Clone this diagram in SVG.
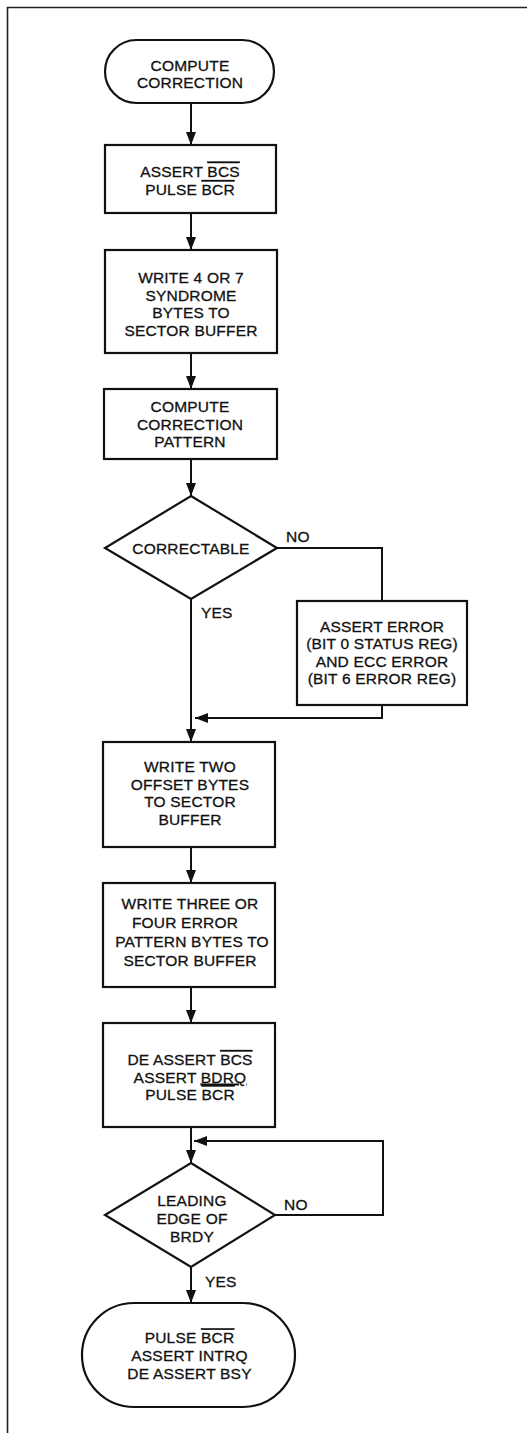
<svg xmlns="http://www.w3.org/2000/svg" width="527" height="1433" viewBox="0 0 527 1433">
  <style>
    .shape { fill: #fff; stroke: #111; stroke-width: 2.2; }
    .wire { fill: none; stroke: #111; stroke-width: 2; }
    .frame { fill: none; stroke: #222; stroke-width: 1.6; }
    text { font-family: "Liberation Sans", Arial, Helvetica, sans-serif; font-size: 15.5px; letter-spacing: 0.2px; fill: #111; stroke: #111; stroke-width: 0.3px; text-anchor: middle; }
    .lbl { text-anchor: start; }
    .ov { text-decoration: overline; }
    .un { text-decoration: underline; }
  </style>
  <defs>
    <marker id="arrow" markerUnits="userSpaceOnUse" markerWidth="14" markerHeight="11" refX="13" refY="5" orient="auto">
      <path d="M0,0 L13,5 L0,10 z" fill="#111"/>
    </marker>
  </defs>
  <rect width="527" height="1433" fill="#fff"/>

  <!-- page frame (top and left edges) -->
  <path class="frame" d="M7.5,1433 V7.5 H527"/>

  <!-- connectors -->
  <g id="connectors">
    <line class="wire" x1="191" y1="103" x2="191" y2="145" marker-end="url(#arrow)"/>
    <line class="wire" x1="191" y1="213" x2="191" y2="250" marker-end="url(#arrow)"/>
    <line class="wire" x1="191" y1="353" x2="191" y2="389" marker-end="url(#arrow)"/>
    <line class="wire" x1="191" y1="459" x2="191" y2="496" marker-end="url(#arrow)"/>
    <polyline class="wire" points="277,548 382,548 382,601"/>
    <line class="wire" x1="191" y1="599" x2="191" y2="742" marker-end="url(#arrow)"/>
    <polyline class="wire" points="382,705 382,718 195,718" marker-end="url(#arrow)"/>
    <line class="wire" x1="191" y1="847" x2="191" y2="883" marker-end="url(#arrow)"/>
    <line class="wire" x1="191" y1="987" x2="191" y2="1023" marker-end="url(#arrow)"/>
    <line class="wire" x1="191" y1="1127" x2="191" y2="1163" marker-end="url(#arrow)"/>
    <polyline class="wire" points="275,1215 383,1215 383,1141 194,1141" marker-end="url(#arrow)"/>
    <line class="wire" x1="191" y1="1267" x2="191" y2="1303" marker-end="url(#arrow)"/>
    <text class="lbl" x="286" y="541.5">NO</text>
    <text class="lbl" x="201" y="618">YES</text>
    <text class="lbl" x="284" y="1210">NO</text>
    <text class="lbl" x="205" y="1287">YES</text>
  </g>

  <g id="start">
    <rect class="shape" x="105" y="40" width="169" height="63" rx="31.5" ry="31.5"/>
    <text x="190" y="71">COMPUTE</text>
    <text x="190" y="88">CORRECTION</text>
  </g>

  <g id="assert-bcs">
    <rect class="shape" x="105" y="145" width="171" height="68"/>
    <text x="190" y="176.5">ASSERT <tspan class="ov">BCS</tspan></text>
    <text x="190" y="195">PULSE <tspan class="ov">BCR</tspan></text>
  </g>

  <g id="write-syndrome">
    <rect class="shape" x="105" y="250" width="172" height="103"/>
    <text x="191" y="283">WRITE 4 OR 7</text>
    <text x="191" y="300.6">SYNDROME</text>
    <text x="191" y="318.2">BYTES TO</text>
    <text x="191" y="335.8">SECTOR BUFFER</text>
  </g>

  <g id="compute-pattern">
    <rect class="shape" x="104" y="389" width="173" height="70"/>
    <text x="190" y="412">COMPUTE</text>
    <text x="190" y="429.7">CORRECTION</text>
    <text x="190" y="447.3">PATTERN</text>
  </g>

  <g id="correctable">
    <polygon class="shape" points="191,496 277,548 191,599 105,548"/>
    <text x="191" y="554">CORRECTABLE</text>
  </g>

  <g id="assert-error">
    <rect class="shape" x="297" y="601" width="170" height="104"/>
    <text x="382" y="631.7">ASSERT ERROR</text>
    <text x="382" y="649">(BIT 0 STATUS REG)</text>
    <text x="382" y="666.7">AND ECC ERROR</text>
    <text x="382" y="684">(BIT 6 ERROR REG)</text>
  </g>

  <g id="write-offset">
    <rect class="shape" x="103" y="742" width="172" height="105"/>
    <text x="190" y="771.7">WRITE TWO</text>
    <text x="190" y="790">OFFSET BYTES</text>
    <text x="190" y="807.3">TO SECTOR</text>
    <text x="190" y="825">BUFFER</text>
  </g>

  <g id="write-pattern">
    <rect class="shape" x="103" y="883" width="172" height="104"/>
    <text x="190" y="908.5">WRITE THREE OR</text>
    <text x="185" y="927.5">FOUR ERROR</text>
    <text x="192" y="946.5">PATTERN BYTES TO</text>
    <text x="190" y="965.5">SECTOR BUFFER</text>
  </g>

  <g id="deassert-bcs">
    <rect class="shape" x="103" y="1023" width="172" height="104"/>
    <text x="190" y="1065">DE ASSERT <tspan class="ov">BCS</tspan></text>
    <text x="190" y="1082.7">ASSERT <tspan class="un">BDRQ</tspan></text>
    <text x="190" y="1100">PULSE <tspan class="ov">BCR</tspan></text>
  </g>

  <g id="brdy-edge">
    <polygon class="shape" points="191,1163 275,1215 191,1267 105,1215"/>
    <text x="192" y="1206">LEADING</text>
    <text x="192" y="1224">EDGE OF</text>
    <text x="192" y="1241.7">BRDY</text>
  </g>

  <g id="end">
    <rect class="shape" x="82" y="1303" width="213" height="104" rx="52" ry="52"/>
    <text x="189.5" y="1343.3">PULSE <tspan class="ov">BCR</tspan></text>
    <text x="189.5" y="1361">ASSERT INTRQ</text>
    <text x="189.5" y="1379">DE ASSERT BSY</text>
  </g>
</svg>
